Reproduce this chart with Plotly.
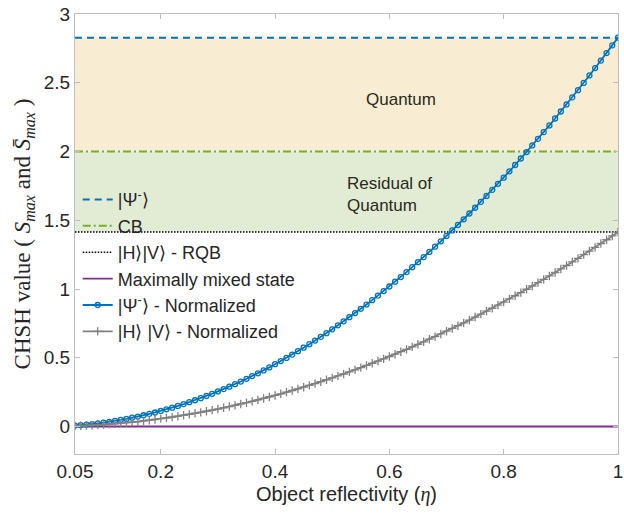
import plotly.graph_objects as go

# Object reflectivity grid (step 0.01 from 0.05 to 1.00)
eta = [round(0.05 + 0.01 * i, 2) for i in range(96)]

# Normalized CHSH value for |Psi^-> vs eta
s_psi_norm = [
    0.007, 0.010, 0.014, 0.018, 0.023, 0.028, 0.034, 0.041, 0.048, 0.055,
    0.064, 0.072, 0.082, 0.092, 0.102, 0.113, 0.125, 0.137, 0.150, 0.163,
    0.177, 0.191, 0.206, 0.222, 0.238, 0.255, 0.272, 0.290, 0.308, 0.327,
    0.347, 0.367, 0.387, 0.408, 0.430, 0.453, 0.476, 0.499, 0.523, 0.548,
    0.573, 0.599, 0.625, 0.652, 0.679, 0.707, 0.736, 0.765, 0.795, 0.825,
    0.856, 0.887, 0.919, 0.952, 0.985, 1.018, 1.053, 1.087, 1.123, 1.159,
    1.195, 1.232, 1.270, 1.308, 1.347, 1.386, 1.426, 1.466, 1.507, 1.549,
    1.591, 1.634, 1.677, 1.721, 1.765, 1.810, 1.856, 1.902, 1.949, 1.996,
    2.044, 2.092, 2.141, 2.190, 2.240, 2.291, 2.342, 2.394, 2.446, 2.499,
    2.553, 2.607, 2.661, 2.716, 2.772, 2.828,
]

# Normalized CHSH value for |H>|V> vs eta
s_hv_norm = [
    0.004, 0.005, 0.007, 0.009, 0.012, 0.014, 0.017, 0.020, 0.024, 0.028,
    0.032, 0.036, 0.041, 0.046, 0.051, 0.057, 0.062, 0.068, 0.075, 0.082,
    0.088, 0.096, 0.103, 0.111, 0.119, 0.127, 0.136, 0.145, 0.154, 0.164,
    0.173, 0.183, 0.194, 0.204, 0.215, 0.226, 0.238, 0.250, 0.262, 0.274,
    0.286, 0.299, 0.312, 0.326, 0.340, 0.354, 0.368, 0.382, 0.397, 0.412,
    0.428, 0.444, 0.460, 0.476, 0.492, 0.509, 0.526, 0.544, 0.561, 0.579,
    0.598, 0.616, 0.635, 0.654, 0.673, 0.693, 0.713, 0.733, 0.754, 0.774,
    0.796, 0.817, 0.839, 0.860, 0.883, 0.905, 0.928, 0.951, 0.974, 0.998,
    1.022, 1.046, 1.070, 1.095, 1.120, 1.146, 1.171, 1.197, 1.223, 1.250,
    1.276, 1.303, 1.331, 1.358, 1.386, 1.414,
]

# Reference CHSH levels
s_psi_max = 2.828   # |Psi^->
s_cb = 2.0          # classical bound
s_rqb = 1.414       # |H>|V> - RQB
s_mixed = 0.0       # maximally mixed state

x_range = [0.05, 1.0]
x_ticks = [0.05, 0.2, 0.4, 0.6, 0.8, 1.0]
x_ticktext = ["0.05", "0.2", "0.4", "0.6", "0.8", "1"]
y_ticks = [0, 0.5, 1, 1.5, 2, 2.5, 3]
y_ticktext = ["0", "0.5", "1", "1.5", "2", "2.5", "3"]

BLUE = "#0072BD"
GREEN = "#77AC30"
PURPLE = "#7E2F8E"
GRAY = "#808080"
TXT = "#262626"
AXIS = "#BDBDBD"
SANS = "Liberation Sans, Arial"

fig = go.Figure()

fig.add_trace(go.Scatter(
    x=x_range, y=[s_psi_max] * 2, mode="lines",
    line=dict(color=BLUE, width=2, dash="7px,5px"),
    name="|Ψ<sup>-</sup>⟩"))
fig.add_trace(go.Scatter(
    x=x_range, y=[s_cb] * 2, mode="lines",
    line=dict(color=GREEN, width=2, dash="8px,3px,2px,3px"),
    name="CB"))
fig.add_trace(go.Scatter(
    x=x_range, y=[s_rqb] * 2, mode="lines",
    line=dict(color="black", width=1.5, dash="1.5px,1.5px"),
    name="|H⟩|V⟩ - RQB"))
fig.add_trace(go.Scatter(
    x=x_range, y=[s_mixed] * 2, mode="lines",
    line=dict(color=PURPLE, width=1.8),
    name="Maximally mixed state"))
fig.add_trace(go.Scatter(
    x=eta, y=s_psi_norm, mode="lines+markers",
    line=dict(color=BLUE, width=1.8),
    marker=dict(symbol="circle-open", size=5, color=BLUE, line=dict(width=1.3)),
    name="|Ψ<sup>-</sup>⟩ - Normalized"))
fig.add_trace(go.Scatter(
    x=eta, y=s_hv_norm, mode="lines+markers",
    line=dict(color=GRAY, width=1.8),
    marker=dict(symbol="cross-thin-open", size=6, color=GRAY, line=dict(width=1.3, color=GRAY)),
    name="|H⟩ |V⟩ - Normalized"))

# Shaded regions: quantum and residual of quantum
fig.add_shape(type="rect", xref="x", yref="y", x0=x_range[0], x1=x_range[1],
              y0=s_cb, y1=s_psi_max, fillcolor="#F8EDD2", line_width=0, layer="below")
fig.add_shape(type="rect", xref="x", yref="y", x0=x_range[0], x1=x_range[1],
              y0=s_rqb, y1=s_cb, fillcolor="#E2ECD5", line_width=0, layer="below")

fig.add_annotation(x=0.62, y=2.38, xref="x", yref="y", text="Quantum",
                   showarrow=False, font=dict(family=SANS, size=17, color="#2a2a1a"))
fig.add_annotation(x=0.522, y=1.69, xref="x", yref="y", text="Residual of<br>Quantum",
                   showarrow=False, align="left", xanchor="left",
                   font=dict(family=SANS, size=17, color="#2a2a1a"))

fig.update_layout(
    width=624, height=514,
    margin=dict(l=75, r=1, t=14, b=60),
    paper_bgcolor="white", plot_bgcolor="white",
    font=dict(family=SANS, size=19, color=TXT),
    showlegend=True,
    legend=dict(x=0.005, y=0.62, xanchor="left", yanchor="top",
                bgcolor="rgba(0,0,0,0)", font=dict(size=18, color=TXT),
                tracegroupgap=0, itemwidth=30),
    xaxis=dict(range=x_range, tickvals=x_ticks, ticktext=x_ticktext,
               showgrid=False, zeroline=False, showline=True, linecolor=AXIS,
               linewidth=1, mirror="ticks", ticks="inside", ticklen=5,
               tickcolor=AXIS, tickfont=dict(size=19, color=TXT),
               ticklabeloverflow="allow",
               title=dict(text="Object reflectivity (<i style='font-family:Liberation Serif'>η</i>)",
                          font=dict(size=20, color=TXT), standoff=6)),
    yaxis=dict(range=[-0.2, 3.0], tickvals=y_ticks, ticktext=y_ticktext,
               showgrid=False, zeroline=False, showline=True, linecolor=AXIS,
               linewidth=1, mirror="ticks", ticks="inside", ticklen=5,
               tickcolor=AXIS, tickfont=dict(size=19, color=TXT),
               title=dict(text="CHSH value ( <i>S</i><sub><i>max</i></sub> and <i>S̄</i><sub><i>max</i></sub> )",
                          font=dict(family="Liberation Serif, DejaVu Serif", size=23, color=TXT),
                          standoff=6)),
)

fig.write_html("out.html")
